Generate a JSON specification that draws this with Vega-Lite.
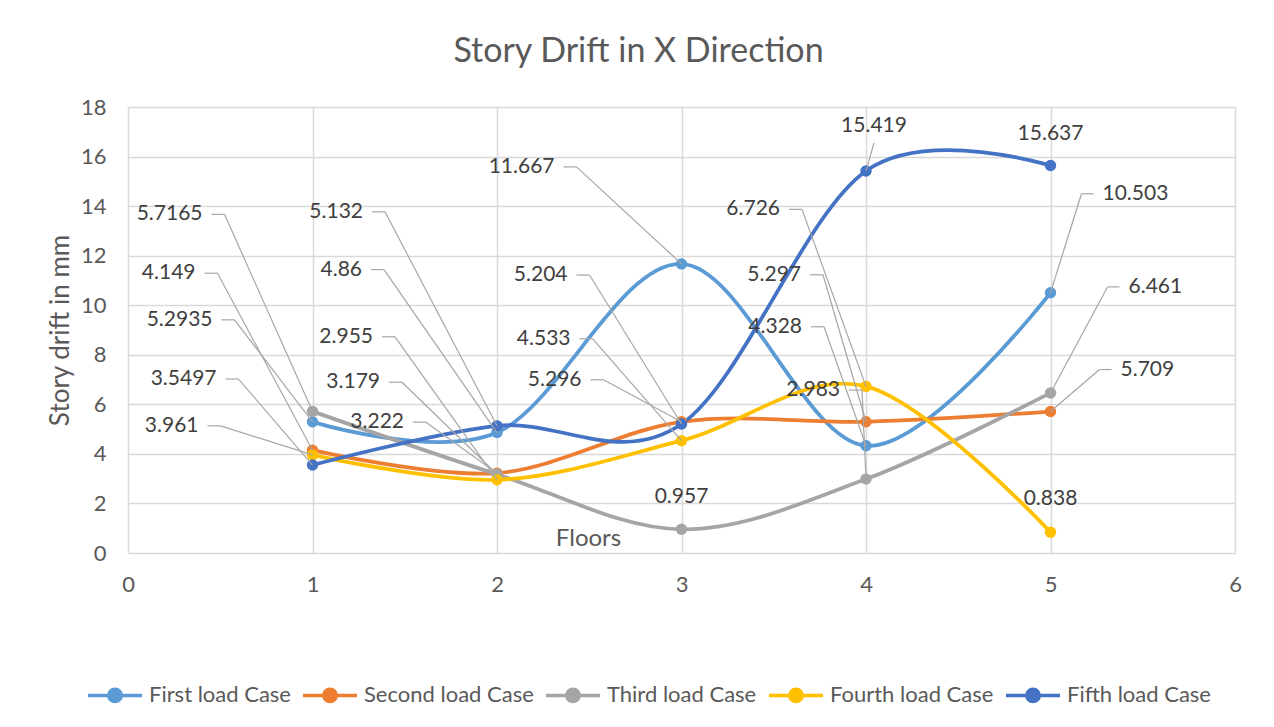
{
  "$schema": "https://vega.github.io/schema/vega-lite/v6.json",
  "width": 1107,
  "height": 446,
  "autosize": {"type": "none"},
  "padding": {"left": 128, "top": 107, "right": 39, "bottom": 174},
  "background": "white",
  "config": {"font": "Lato", "view": {"stroke": null}},
  "params": [
    {
      "name": "lab",
      "value": {
        "First load Case": [[-100, -102, -1, -78, -102], [-135, -163, -1, -113, -163], [-127, -97, -1, -105, -97], [-64, -119, -1, -42, -119], [52, -99, 1, 31, -99]],
        "Second load Case": [[-117, -177, -1, -95, -177], [-93, -51, -1, -71, -51], [-100, -42, -1, -78, -42], [-65, -147, -1, -43, -147], [70, -42, 1, 49, -42]],
        "Third load Case": [[-110, -197, -1, -88, -197], [-117, -92, -1, -95, -92], [0, -32, 0, 0, 0], [-26, -89, -1, -4, -89], [78, -106, 1, 57, -106]],
        "Fourth load Case": [[-114, -29, -1, -92, -29], [-124, -143, -1, -102, -143], [-111, -102, -1, -89, -102], [-86, -177, -1, -64, -177], [0, -33, 0, 0, 0]],
        "Fifth load Case": [[-96, -86, -1, -74, -86], [-134, -214, -1, -112, -214], [-114, -149, -1, -92, -149], [8, -45, 0, 8, -28], [0, -32, 0, 0, 0]]
      }
    }
  ],
  "title": {
    "text": "Story Drift in X Direction",
    "font": "Lato",
    "fontSize": 34,
    "fontWeight": "normal",
    "color": "#595959",
    "anchor": "middle",
    "frame": "group",
    "baseline": "alphabetic",
    "dx": -43,
    "offset": 0
  },
  "data": {
    "values": [
      {"series": "First load Case", "floor": 1, "drift": 5.2935},
      {"series": "First load Case", "floor": 2, "drift": 4.86},
      {"series": "First load Case", "floor": 3, "drift": 11.667},
      {"series": "First load Case", "floor": 4, "drift": 4.328},
      {"series": "First load Case", "floor": 5, "drift": 10.503},
      {"series": "Second load Case", "floor": 1, "drift": 4.149},
      {"series": "Second load Case", "floor": 2, "drift": 3.222},
      {"series": "Second load Case", "floor": 3, "drift": 5.296},
      {"series": "Second load Case", "floor": 4, "drift": 5.297},
      {"series": "Second load Case", "floor": 5, "drift": 5.709},
      {"series": "Third load Case", "floor": 1, "drift": 5.7165},
      {"series": "Third load Case", "floor": 2, "drift": 3.179},
      {"series": "Third load Case", "floor": 3, "drift": 0.957},
      {"series": "Third load Case", "floor": 4, "drift": 2.983},
      {"series": "Third load Case", "floor": 5, "drift": 6.461},
      {"series": "Fourth load Case", "floor": 1, "drift": 3.961},
      {"series": "Fourth load Case", "floor": 2, "drift": 2.955},
      {"series": "Fourth load Case", "floor": 3, "drift": 4.533},
      {"series": "Fourth load Case", "floor": 4, "drift": 6.726},
      {"series": "Fourth load Case", "floor": 5, "drift": 0.838},
      {"series": "Fifth load Case", "floor": 1, "drift": 3.5497},
      {"series": "Fifth load Case", "floor": 2, "drift": 5.132},
      {"series": "Fifth load Case", "floor": 3, "drift": 5.204},
      {"series": "Fifth load Case", "floor": 4, "drift": 15.419},
      {"series": "Fifth load Case", "floor": 5, "drift": 15.637}
    ]
  },
  "encoding": {
    "x": {
      "field": "floor",
      "type": "quantitative",
      "scale": {"domain": [0, 6], "nice": false, "zero": false},
      "axis": {
        "values": [0, 1, 2, 3, 4, 5, 6],
        "title": "Floors",
        "titleX": 460,
        "titleY": -15,
        "titleAlign": "center",
        "titleBaseline": "middle",
        "titleFontSize": 24,
        "titleFontWeight": "normal",
        "titleColor": "#595959",
        "labelFontSize": 22,
        "labelColor": "#595959",
        "labelPadding": 21,
        "labelFlush": false,
        "ticks": false,
        "tickSize": 0,
        "domain": false,
        "grid": true,
        "gridColor": "#D9D9D9",
        "gridWidth": 1.5
      }
    },
    "y": {
      "field": "drift",
      "type": "quantitative",
      "scale": {"domain": [0, 18], "nice": false},
      "axis": {
        "values": [0, 2, 4, 6, 8, 10, 12, 14, 16, 18],
        "title": "Story drift in mm",
        "titleX": -60,
        "titleY": 223,
        "titleAngle": 270,
        "titleAlign": "center",
        "titleBaseline": "alphabetic",
        "titleFontSize": 26,
        "titleFontWeight": "normal",
        "titleColor": "#595959",
        "labelFontSize": 22,
        "labelColor": "#595959",
        "labelPadding": 22,
        "labelFlush": false,
        "ticks": false,
        "tickSize": 0,
        "domain": false,
        "grid": true,
        "gridColor": "#D9D9D9",
        "gridWidth": 1.5
      }
    },
    "color": {
      "field": "series",
      "type": "nominal",
      "sort": ["First load Case", "Second load Case", "Third load Case", "Fourth load Case", "Fifth load Case"],
      "scale": {
        "domain": ["First load Case", "Second load Case", "Third load Case", "Fourth load Case", "Fifth load Case"],
        "range": ["#5B9BD5", "#ED7D31", "#A5A5A5", "#FFC000", "#4472C4"]
      },
      "legend": {
        "orient": "none",
        "legendX": -42,
        "legendY": 559,
        "direction": "horizontal",
        "title": null,
        "labelFontSize": 22,
        "labelColor": "#595959",
        "labelLimit": 400,
        "labelOffset": 5,
        "columnPadding": 5,
        "symbolType": "M-1,0L1,0M0.23,0A0.23,0.23,0,1,1,-0.23,0A0.23,0.23,0,1,1,0.23,0Z",
        "symbolSize": 2916,
        "symbolStrokeWidth": 3.5,
        "symbolOpacity": 1
      }
    }
  },
  "layer": [
    {
      "mark": {"type": "line", "interpolate": "cardinal", "strokeWidth": 3.75},
      "encoding": {"detail": {"field": "series"}}
    },
    {
      "mark": {"type": "point", "shape": "circle", "filled": true, "size": 130, "opacity": 1}
    },
    {
      "mark": {
        "type": "rule",
        "strokeWidth": 1.2,
        "x2Offset": {"expr": "lab[datum.series][datum.floor-1][3]"},
        "y2Offset": {"expr": "lab[datum.series][datum.floor-1][4]"}
      },
      "encoding": {
        "x2": {"field": "floor"},
        "y2": {"field": "drift"},
        "color": {"value": "#A6A6A6"}
      }
    },
    {
      "mark": {
        "type": "rule",
        "strokeWidth": 1.2,
        "xOffset": {"expr": "lab[datum.series][datum.floor-1][0] - lab[datum.series][datum.floor-1][2]*9"},
        "x2Offset": {"expr": "lab[datum.series][datum.floor-1][3]"},
        "yOffset": {"expr": "lab[datum.series][datum.floor-1][1]"},
        "y2Offset": {"expr": "lab[datum.series][datum.floor-1][1]"}
      },
      "encoding": {
        "x2": {"field": "floor"},
        "y2": {"field": "drift"},
        "color": {"value": "#A6A6A6"}
      }
    },
    {
      "mark": {
        "type": "text",
        "fontSize": 21,
        "baseline": "middle",
        "align": {"expr": "lab[datum.series][datum.floor-1][2] < 0 ? 'right' : (lab[datum.series][datum.floor-1][2] > 0 ? 'left' : 'center')"},
        "dx": {"expr": "lab[datum.series][datum.floor-1][0]"},
        "dy": {"expr": "lab[datum.series][datum.floor-1][1]"}
      },
      "encoding": {
        "text": {"field": "drift", "type": "quantitative", "format": "~g"},
        "color": {"value": "#404040"}
      }
    }
  ]
}
